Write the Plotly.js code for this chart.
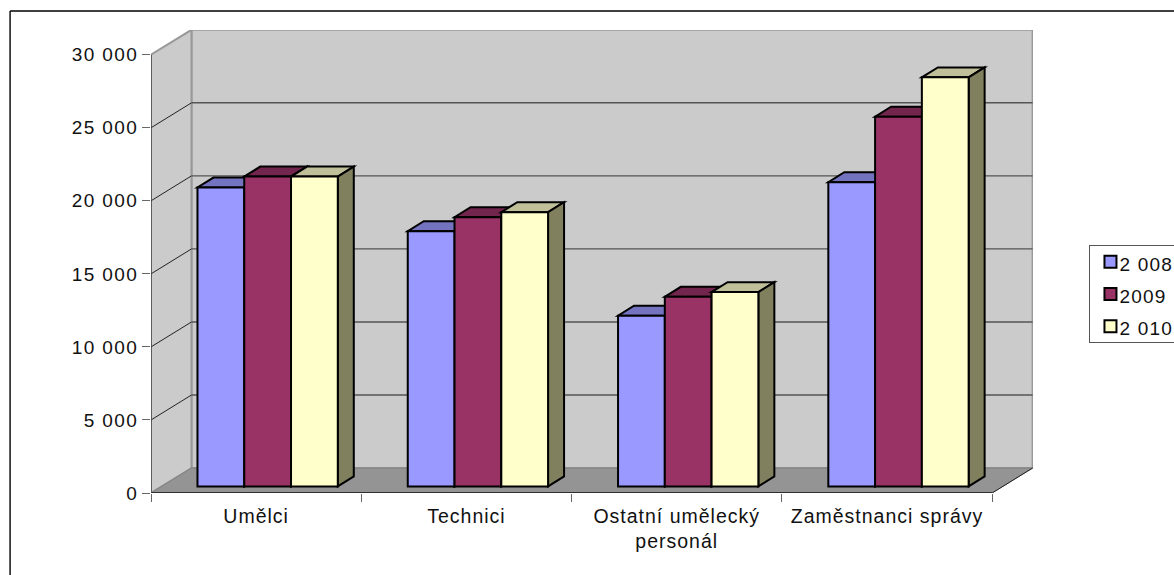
<!DOCTYPE html>
<html><head><meta charset="utf-8">
<script src="https://cdn.plot.ly/plotly-3.0.1.min.js"></script>
<style>
html,body{margin:0;padding:0;background:#fff;overflow:hidden}
#chart{width:1174px;height:575px}
.xtick text{letter-spacing:1px}
.ytick text{letter-spacing:1.4px}
.legendtext{font-size:19px !important;letter-spacing:1.2px;transform:translateX(-11px)}
.legend .bg{y:6px;height:97px}
</style></head><body><div id="chart"></div>
<script>
const categories = ['Umělci','Technici','Ostatní umělecký<br>personál','Zaměstnanci správy'];
const seriesNames = ['2 008','2009','2 010'];
const values2008 = [20460,17470,11690,20820];
const values2009 = [21210,18430,12980,25310];
const values2010 = [21210,18770,13300,28000];
const yTicks = [0,5000,10000,15000,20000,25000,30000];
const yTickLabels = ['0','5 000','10 000','15 000','20 000','25 000','30 000'];
const frontColors = ['#9999FF','#993366','#FFFFCC'];
const topColors = ['#7373BF','#73264D','#BFBF99'];
const sideColors = ['#73738F','#732649','#80805F'];

const W=1174,H=575, L=150.5,R=1033,T=29.5,B=493.3;
const catPx=210.4, unitPx=73.17/5000;
const xMax=-0.5+(R-L)/catPx, yMax=(B-T)/unitPx;
const pxX=p=>p/catPx, pxY=p=>p/unitPx;
const wallDX=pxX(40.5), wallDY=pxY(25);
const barDX=pxX(16), barDY=pxY(10), barBase=pxY(6.6);
const barW=pxX(46.8), barLeft=-0.5+pxX(46.5);
const xEnd=3.5, paperX=p=>(p-L)/(R-L), paperY=p=>(B-p)/(B-T);

function poly(pts,fill,color,width){
  return {type:'path',xref:'x',yref:'y',layer:'below',
    path:'M'+pts.map(p=>p[0]+','+p[1]).join('L')+'Z',
    fillcolor:fill,line:{color:color,width:width}};
}
function seg(x0,y0,x1,y1,color,width){
  return {type:'line',xref:'x',yref:'y',layer:'below',x0,y0,x1,y1,line:{color,width}};
}
const shapes=[];
const wx0=-0.5, wx1=-0.5+wallDX, wxr=xEnd+wallDX, y30=yTicks[yTicks.length-1];
// back wall, side wall, floor
shapes.push(poly([[wx1,wallDY],[wxr,wallDY],[wxr,y30+wallDY],[wx1,y30+wallDY]],'#CBCBCB','#999999',2));
shapes.push(poly([[wx0,0],[wx1,wallDY],[wx1,y30+wallDY],[wx0,y30]],'#CBCBCB','#999999',2));
yTicks.slice(1,-1).forEach(v=>{
  shapes.push(seg(wx0,v,wx1,v+wallDY,'#222',1));
  shapes.push(seg(wx1,v+wallDY,wxr,v+wallDY,'#555',1.4));
});
shapes.push(poly([[wx0,0],[xEnd,0],[wxr,wallDY],[wx1,wallDY]],'#949494','#808080',1));
shapes.push(seg(xEnd,0,wxr,wallDY,'#222',1));
shapes.push(seg(wx0,0,xEnd,0,'#111',1.5));
shapes.push(seg(wx0,0,wx0,y30,'#444',1.4));
// bar tops and sides, from the data
[values2008,values2009,values2010].forEach((vals,k)=>{
  vals.forEach((v,i)=>{
    const a=i+barLeft+k*barW, b=a+barW, top=v+barBase;
    shapes.push(poly([[a,top],[b,top],[b+barDX,top+barDY],[a+barDX,top+barDY]],topColors[k],'#000',2));
    shapes.push(poly([[b,barBase],[b+barDX,barBase+barDY],[b+barDX,top+barDY],[b,top]],sideColors[k],'#000',2));
  });
});
// chart frame (open at the right and bottom where the picture is cropped)
shapes.push({type:'line',xref:'paper',yref:'paper',layer:'above',x0:paperX(9.5),x1:paperX(W+5),y0:paperY(10.5),y1:paperY(10.5),line:{color:'#000',width:1.4}});
shapes.push({type:'line',xref:'paper',yref:'paper',layer:'above',x0:paperX(9.5),x1:paperX(9.5),y0:paperY(10.5),y1:paperY(H+5),line:{color:'#000',width:1.4}});

const idx=categories.map((_,i)=>i);
const traces=[values2008,values2009,values2010].map((vals,k)=>({
  type:'bar',name:seriesNames[k],x:idx,y:vals,base:barBase,
  offset:barLeft+k*barW,width:barW,
  marker:{color:frontColors[k],line:{color:'#000',width:2}},
  hovertemplate:'%{y}<extra>'+seriesNames[k]+'</extra>'
}));
const font='"Liberation Sans",Arial,sans-serif';
const layout={
  width:W,height:H,paper_bgcolor:'#fff',plot_bgcolor:'rgba(0,0,0,0)',
  margin:{l:L,r:W-R,t:T,b:H-B,pad:0,autoexpand:false},
  barmode:'overlay',
  font:{family:font,color:'#000'},
  xaxis:{range:[-0.5,xMax],tickmode:'array',tickvals:idx,ticktext:categories,ticks:'',
    showgrid:false,zeroline:false,showline:false,tickangle:0,
    tickfont:{family:font,size:19.5,color:'#111'},ticklabelstandoff:9,
    minor:{tickmode:'array',tickvals:[-0.5,0.5,1.5,2.5,3.5],ticks:'outside',ticklen:8,tickwidth:1,tickcolor:'#666',showgrid:false}},
  yaxis:{range:[0,yMax],tickmode:'array',tickvals:yTicks,ticktext:yTickLabels,ticks:'outside',ticklen:8,tickwidth:1,tickcolor:'#666',
    showgrid:false,zeroline:false,showline:false,
    tickfont:{family:font,size:19,color:'#111'}},
  legend:{x:paperX(1089.5),xanchor:'left',y:paperY(239.5),yanchor:'top',xref:'paper',yref:'paper',
    bgcolor:'#fff',bordercolor:'#555',borderwidth:1,font:{family:font,size:22.5,color:'#111'},
    traceorder:'normal',itemclick:false,itemdoubleclick:false},
  showlegend:true,
  shapes
};
Plotly.newPlot('chart',traces,layout,{displayModeBar:false,staticPlot:true});
</script></body></html>
